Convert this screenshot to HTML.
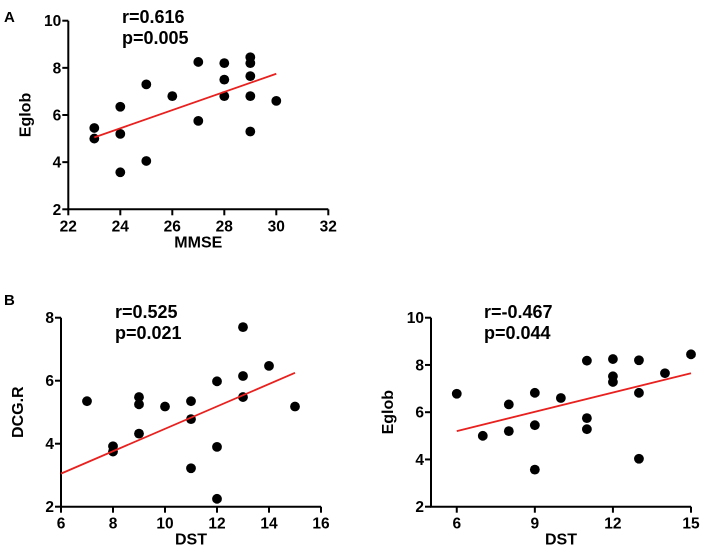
<!DOCTYPE html>
<html><head><meta charset="utf-8"><style>
html,body{margin:0;padding:0;background:#fff;}
svg{display:block;font-family:"Liberation Sans",Arial,sans-serif;font-weight:bold;}
</style></head><body>
<svg id="fig" width="708" height="557" viewBox="0 0 708 557" xmlns="http://www.w3.org/2000/svg">
<text x="4" y="22" font-size="15">A</text>
<text x="4" y="305" font-size="15">B</text>
</svg>
<script>
// Panel A data: MMSE vs Eglob
const aX = [23,23,24,24,24,25,25,26,27,27,28,28,28,29,29,29,29,29,30];
const aY = [5.45,5.0,6.35,5.2,3.57,7.3,4.05,6.8,8.25,5.75,8.2,7.5,6.8,8.45,8.2,7.65,6.8,5.3,6.6];
const aFitX = [23,30];
const aFitY = [5.05,7.75];
const aXTicks = [22,24,26,28,30,32];
const aYTicks = [2,4,6,8,10];
// Panel B left: DST vs DCG.R
const bX = [7,8,8,9,9,9,10,11,11,11,12,12,12,13,13,13,14,15];
const bY = [5.35,3.92,3.75,5.48,5.25,4.32,5.18,5.35,4.78,3.22,5.98,3.9,2.25,7.7,6.15,5.48,6.47,5.18];
const bFitX = [6,15];
const bFitY = [3.05,6.25];
const bXTicks = [6,8,10,12,14,16];
const bYTicks = [2,4,6,8];
// Panel B right: DST vs Eglob
const cX = [6,7,8,8,9,9,9,10,11,11,11,12,12,12,13,13,13,14,15];
const cY = [6.78,5.0,6.33,5.2,6.82,5.45,3.57,6.6,8.18,5.75,5.28,8.25,7.52,7.28,8.2,6.82,4.03,7.65,8.45];
const cFitX = [6,15];
const cFitY = [5.2,7.65];
const cXTicks = [6,9,12,15];
const cYTicks = [2,4,6,8,10];

const NS = "http://www.w3.org/2000/svg";
const svg = document.getElementById('fig');
function mk(tag, attrs, parent){
  const e = document.createElementNS(NS, tag);
  for (const k in attrs) e.setAttribute(k, attrs[k]);
  (parent||svg).appendChild(e);
  return e;
}
function panel(id, p){
  const g = mk('g', {});
  
  
  const sx = v => p.x0 + (v - p.xmin) / (p.xmax - p.xmin) * (p.x1 - p.x0);
  const sy = v => p.y0 - (v - p.ymin) / (p.ymax - p.ymin) * (p.y0 - p.y1);
  const ya = mk('line', {x1:p.x0, y1:p.y0, x2:p.x0, y2:p.y1, stroke:'#000','stroke-width':2}, g);
  
  
  const xa = mk('line', {x1:p.x0-1, y1:p.y0, x2:p.x1, y2:p.y0, stroke:'#000','stroke-width':2}, g);
  
  
  p.xt.forEach(v => {
    mk('line', {x1:sx(v), y1:p.y0, x2:sx(v), y2:p.y0+6, stroke:'#000','stroke-width':2}, g);
    const t = mk('text', {x:sx(v), y:p.y0+22, 'font-size':15.5, 'text-anchor':'middle'}, g);
    t.textContent = v;
    
    
  });
  p.yt.forEach(v => {
    mk('line', {x1:p.x0-6, y1:sy(v), x2:p.x0, y2:sy(v), stroke:'#000','stroke-width':2}, g);
    const t = mk('text', {x:p.x0-7, y:sy(v)+5.5, 'font-size':15.5, 'text-anchor':'end'}, g);
    t.textContent = v;
    
    
  });
  p.xs.forEach((v,i) => {
    const c = mk('circle', {cx:sx(v), cy:sy(p.ys[i]), r:4.9, fill:'#000'}, g);
    
    
  });
  const fl = mk('line', {x1:sx(p.fx[0]), y1:sy(p.fy[0]), x2:sx(p.fx[1]), y2:sy(p.fy[1]), stroke:'#e8211f','stroke-width':1.8}, g);
  
  
  const r = mk('text', {x:p.ax, y:p.ay, 'font-size':18}, g);
  r.textContent = p.r;
  
  
  const pv = mk('text', {x:p.ax, y:p.ay+21, 'font-size':18}, g);
  pv.textContent = p.p;
  
  
  const xt = mk('text', {x:(p.x0+p.x1)/2, y:p.y0+38, 'font-size':16, 'text-anchor':'middle'}, g);
  xt.textContent = p.xl;
  
  
  const cy = (p.y0+p.y1)/2;
  const yx = p.x0-38;
  const yt = mk('text', {x:yx, y:cy, 'font-size':16, 'text-anchor':'middle', transform:'rotate(-90 '+yx+' '+cy+')'}, g);
  yt.textContent = p.yl;
  
  
}
panel('panel-a', {x0:68.3,x1:328.3,y0:209.3,y1:20.7,xmin:22,xmax:32,ymin:2,ymax:10,xt:aXTicks,yt:aYTicks,xs:aX,ys:aY,fx:aFitX,fy:aFitY,r:'r=0.616',p:'p=0.005',ax:122,ay:23,xl:'MMSE',yl:'Eglob'});
panel('panel-b-left', {x0:61,x1:321,y0:506.7,y1:317.7,xmin:6,xmax:16,ymin:2,ymax:8,xt:bXTicks,yt:bYTicks,xs:bX,ys:bY,fx:bFitX,fy:bFitY,r:'r=0.525',p:'p=0.021',ax:115,ay:318,xl:'DST',yl:'DCG.R'});
panel('panel-b-right', {x0:431,x1:691,y0:506.7,y1:317.7,xmin:5.01,xmax:15,ymin:2,ymax:10,xt:cXTicks,yt:cYTicks,xs:cX,ys:cY,fx:cFitX,fy:cFitY,r:'r=-0.467',p:'p=0.044',ax:484,ay:318,xl:'DST',yl:'Eglob'});
</script>
</body></html>
